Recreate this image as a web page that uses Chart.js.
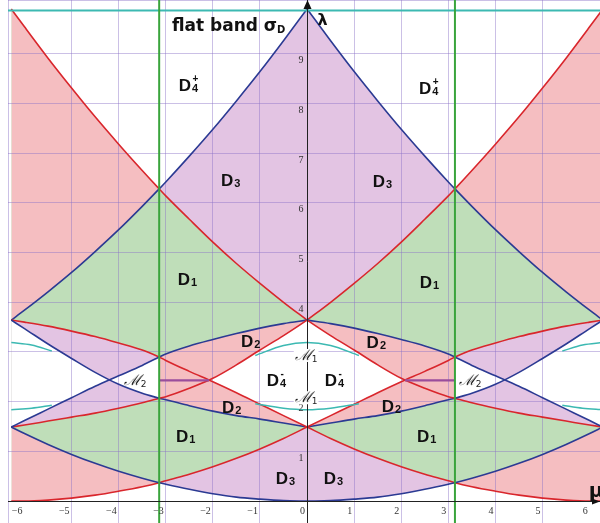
<!DOCTYPE html>
<html>
<head>
<meta charset="utf-8">
<script src="https://cdn.jsdelivr.net/npm/chart.js@4"></script>
<style>
  html, body { margin: 0; padding: 0; background: #fff; }
  canvas { display: block; }
</style>
</head>
<body>
<canvas id="c" width="600" height="523" style="width:600px;height:523px"></canvas>
<script>
// band edges λ(μ), sampled on 0 ≤ μ ≤ 2π; the left half is the mirror image
const mu        = [0, 0.5, 1, 1.5, 2, 2.5, 3, 3.14, 3.5, 4, 4.5, 5, 5.5, 6, 6.28];
const blueTop   = [9.90, 9.26, 8.64, 8.05, 7.48, 6.94, 6.42, 6.28, 5.93, 5.46, 5.02, 4.60, 4.21, 3.84, 3.64];
const redTop    = [3.64, 4.00, 4.38, 4.78, 5.21, 5.67, 6.14, 6.28, 6.65, 7.18, 7.73, 8.31, 8.91, 9.54, 9.90];
const blueMidUp = [3.64, 3.57, 3.48, 3.37, 3.25, 3.12, 2.96, 2.90, 2.73, 2.52, 2.31, 2.08, 1.85, 1.62, 1.49];
const redMidUp  = [3.64, 3.33, 3.04, 2.74, 2.47, 2.27, 2.10, 2.07, 1.98, 1.87, 1.77, 1.69, 1.61, 1.53, 1.49];
const redMidLo  = [1.49, 1.72, 1.95, 2.18, 2.40, 2.61, 2.83, 2.90, 3.04, 3.18, 3.31, 3.42, 3.52, 3.60, 3.64];
const blueMidLo = [1.49, 1.57, 1.65, 1.72, 1.81, 1.92, 2.04, 2.07, 2.17, 2.35, 2.59, 2.87, 3.16, 3.47, 3.64];
const blueLow   = [0.00, 0.01, 0.04, 0.08, 0.15, 0.24, 0.34, 0.37, 0.46, 0.60, 0.76, 0.94, 1.14, 1.36, 1.49];
const redLow    = [1.49, 1.26, 1.05, 0.86, 0.69, 0.54, 0.41, 0.37, 0.29, 0.20, 0.12, 0.06, 0.02, 0.00, 0.00];

// M1 edges near μ = 0 and μ = ±2π
const tealMu      = [-1.1, -0.5, 0, 0.5, 1.1];
const tealUp      = [2.93, 3.13, 3.19, 3.13, 2.93];
const tealLo      = [1.96, 1.87, 1.84, 1.87, 1.96];
const tealEdgeMu  = [5.42, 5.85, 6.28];
const tealEdgeUp  = [3.02, 3.14, 3.19];
const tealEdgeLo  = [1.93, 1.87, 1.84];
const flatBand    = 9.87;

// M2 gap and the zone boundaries μ = ±π
const m2Span  = [2.08, 3.14];
const m2Level = 2.43;
const zoneMu  = 3.14;

const xTicks = [-6, -5, -4, -3, -2, -1, 0, 1, 2, 3, 4, 5, 6];
const yTicks = [1, 2, 3, 4, 5, 6, 7, 8, 9];

const RED = '#d9262c', BLUE = '#2b3a93', TEAL = '#3cb9b2', ZONE = '#3aa43c', M2C = '#9a4d9c';
const PINK = '#f5bec1', LILAC = '#e3c4e3', MINT = '#bfdeb9', WHITE = '#ffffff';

function pts(xs, ys, side, from = 0, to = xs.length - 1) {
  const out = [];
  for (let i = from; i <= to; i++) out.push({x: side * xs[i], y: ys[i]});
  if (side < 0) out.reverse();
  return out;
}

const datasets = [];
function add(data, opts) {
  datasets.push(Object.assign({
    data, borderWidth: 1.6, pointRadius: 0, fill: false,
    cubicInterpolationMode: 'monotone'
  }, opts));
  return datasets.length - 1;
}
const ghost = {borderWidth: 0, borderColor: 'rgba(0,0,0,0)'};

// upper bands: mint under both curves, lilac / pink between them
for (const s of [-1, 1]) {
  add(pts(mu, blueTop, s), {...ghost, fill: 'origin', backgroundColor: MINT});
  const rt = add(pts(mu, redTop, s), {borderColor: RED, fill: 'origin', backgroundColor: MINT});
  add(pts(mu, blueTop, s), {borderColor: BLUE, fill: {target: rt, above: LILAC, below: PINK}});
}

// middle bands, split at the zone edge |μ| = π
for (const s of [-1, 1]) {
  const bl = add(pts(mu, blueMidLo, s, 0, 7), {borderColor: BLUE});
  add(pts(mu, blueMidUp, s, 0, 7), {borderColor: BLUE, fill: {target: bl, above: PINK, below: PINK}});
  const rl = add(pts(mu, redMidLo, s, 0, 7), {borderColor: RED});
  add(pts(mu, redMidUp, s, 0, 7), {borderColor: RED, fill: {target: rl, above: WHITE, below: 'rgba(0,0,0,0)'}});

  const ru = add(pts(mu, redMidUp, s, 7, 14), {borderColor: RED});
  add(pts(mu, redMidLo, s, 7, 14), {borderColor: RED, fill: {target: ru, above: LILAC, below: LILAC}});
  const bl2 = add(pts(mu, blueMidLo, s, 7, 14), {borderColor: BLUE});
  add(pts(mu, blueMidUp, s, 7, 14), {borderColor: BLUE, fill: {target: bl2, above: WHITE, below: WHITE}});
}

// lowest band
for (const s of [-1, 1]) {
  add(pts(mu, blueLow, s), {...ghost, fill: 'origin', backgroundColor: WHITE});
  const rb = add(pts(mu, redLow, s), {borderColor: RED, fill: 'origin', backgroundColor: WHITE});
  add(pts(mu, blueLow, s), {borderColor: BLUE, fill: {target: rb, above: PINK, below: LILAC}});
}

// M1 edges
const tealStyle = {borderColor: TEAL, borderWidth: 1.5};
add(tealMu.map((m, i) => ({x: m, y: tealUp[i]})), tealStyle);
add(tealMu.map((m, i) => ({x: m, y: tealLo[i]})), tealStyle);
for (const s of [-1, 1]) {
  add(pts(tealEdgeMu, tealEdgeUp, s), tealStyle);
  add(pts(tealEdgeMu, tealEdgeLo, s), tealStyle);
}
add([{x: -7, y: flatBand}, {x: 7, y: flatBand}], {borderColor: TEAL, borderWidth: 2, cubicInterpolationMode: 'default', tension: 0});

// M2 gaps and zone lines
for (const s of [-1, 1]) {
  add([{x: s * m2Span[0], y: m2Level}, {x: s * m2Span[1], y: m2Level}].sort((a, b) => a.x - b.x),
      {borderColor: M2C, borderWidth: 2.2, cubicInterpolationMode: 'default', tension: 0});
  add([{x: s * zoneMu, y: -1}, {x: s * zoneMu, y: 11}],
      {borderColor: ZONE, borderWidth: 2, cubicInterpolationMode: 'default', tension: 0});
}

datasets.forEach((d, i) => { d.order = datasets.length - i; });

// region names, placed in (μ, λ)
const regions = [
  ['4', '+', -2.53, 8.37], ['4', '+', 2.57, 8.31],
  ['3', '', -1.63, 6.46], ['3', '', 1.59, 6.44],
  ['1', '', -2.55, 4.47], ['1', '', 2.59, 4.41],
  ['2', '', -1.21, 3.22], ['2', '', 1.46, 3.20],
  ['4', '-', -0.66, 2.43], ['4', '-', 0.57, 2.43],
  ['2', '', -1.61, 1.89], ['2', '', 1.78, 1.91],
  ['1', '', -2.59, 1.31], ['1', '', 2.53, 1.31],
  ['3', '', -0.47, 0.46], ['3', '', 0.55, 0.46]
];
const mLabels = [['2', -3.65, 2.43], ['2', 3.46, 2.43], ['1', -0.02, 2.94], ['1', -0.02, 2.09]];

const overlay = {
  id: 'overlay',
  afterDatasetsDraw(chart) {
    const {ctx, chartArea: a} = chart;
    const X = v => chart.scales.x.getPixelForValue(v);
    const Y = v => chart.scales.y.getPixelForValue(v);
    const x0 = Math.round(X(0)) + 0.5, y0 = Math.round(Y(0)) + 0.5;
    ctx.save();

    // axes with arrow heads
    ctx.strokeStyle = '#222';
    ctx.lineWidth = 1;
    ctx.beginPath();
    ctx.moveTo(x0, a.top); ctx.lineTo(x0, a.bottom);
    ctx.moveTo(a.left, y0); ctx.lineTo(a.right, y0);
    ctx.stroke();
    ctx.fillStyle = '#111';
    ctx.beginPath();
    ctx.moveTo(x0, a.top); ctx.lineTo(x0 - 4, a.top + 9); ctx.lineTo(x0 + 4, a.top + 9);
    ctx.fill();
    ctx.beginPath();
    ctx.moveTo(a.right, y0); ctx.lineTo(a.right - 8, y0 - 3); ctx.lineTo(a.right - 8, y0 + 3);
    ctx.fill();

    // tick labels
    ctx.fillStyle = '#333';
    ctx.font = '10px "Liberation Serif"';
    ctx.textAlign = 'right';
    ctx.textBaseline = 'top';
    for (const v of yTicks) ctx.fillText(String(v), x0 - 4, Y(v) + 2);
    for (const v of xTicks) ctx.fillText(String(v).replace('-', '\u2212'), X(v) - 2, y0 + 5);

    // region names
    ctx.fillStyle = '#111';
    ctx.textBaseline = 'alphabetic';
    ctx.textAlign = 'left';
    for (const [sub, sup, m, l] of regions) {
      ctx.font = 'bold 17px "Liberation Sans"';
      const wd = ctx.measureText('D').width;
      ctx.font = 'bold 11px "Liberation Sans"';
      const ws = ctx.measureText(sub).width;
      const left = X(m) - (wd + ws) / 2, base = Y(l) + 6;
      ctx.font = 'bold 17px "Liberation Sans"';
      ctx.fillText('D', left, base);
      ctx.font = 'bold 11px "Liberation Sans"';
      ctx.fillText(sub, left + wd + 1, base + 1);
      if (sup) {
        ctx.font = 'bold 10px "Liberation Sans"';
        ctx.fillText(sup === '-' ? '-' : '+', left + wd + 1.5, base - 9);
      }
    }

    // M labels
    for (const [sub, m, l] of mLabels) {
      ctx.font = 'italic 15px "DejaVu Serif"';
      const wm = ctx.measureText('\u2133').width;
      ctx.font = '9px "DejaVu Sans"';
      const ws = ctx.measureText(sub).width;
      const left = X(m) - (wm + ws) / 2, base = Y(l) + 5;
      if (sub === '1') {
        ctx.fillStyle = WHITE;
        ctx.fillRect(left - 1, base - 11, wm + ws + 2, 13);
      }
      ctx.fillStyle = '#222';
      ctx.font = 'italic 15px "DejaVu Serif"';
      ctx.fillText('\u2133', left, base);
      ctx.font = '9px "DejaVu Sans"';
      ctx.fillText(sub, left + wm, base + 2);
    }

    // band and axis names
    ctx.fillStyle = '#111';
    ctx.font = 'bold 17px "DejaVu Sans"';
    ctx.fillText('flat band \u03c3', X(-2.87), Y(9.46));
    const wf = ctx.measureText('flat band \u03c3').width;
    ctx.font = 'bold 10px "DejaVu Sans"';
    ctx.fillText('D', X(-2.87) + wf, Y(9.46) + 2);
    ctx.font = 'bold 16px "DejaVu Sans"';
    ctx.fillText('\u03bb', X(0.22), Y(9.58));
    ctx.font = 'bold 20px "DejaVu Sans"';
    ctx.fillText('\u03bc', X(5.98), Y(0.08));

    ctx.restore();
  }
};

new Chart(document.getElementById('c'), {
  type: 'line',
  data: {datasets},
  plugins: [overlay],
  options: {
    responsive: false,
    animation: false,
    events: [],
    layout: {padding: {left: 8, right: 0, top: 0, bottom: 0}},
    plugins: {
      legend: {display: false},
      tooltip: {enabled: false},
      filler: {drawTime: 'beforeDraw', propagate: false}
    },
    scales: {
      x: {
        type: 'linear', min: -6.35, max: 6.22,
        ticks: {display: false, stepSize: 1},
        grid: {color: 'rgba(140,115,200,0.45)', drawTicks: false},
        border: {display: false}
      },
      y: {
        type: 'linear', min: -0.44, max: 10.08,
        ticks: {display: false, stepSize: 1},
        grid: {color: 'rgba(140,115,200,0.45)', drawTicks: false},
        border: {display: false}
      }
    }
  }
});
</script>
</body>
</html>
